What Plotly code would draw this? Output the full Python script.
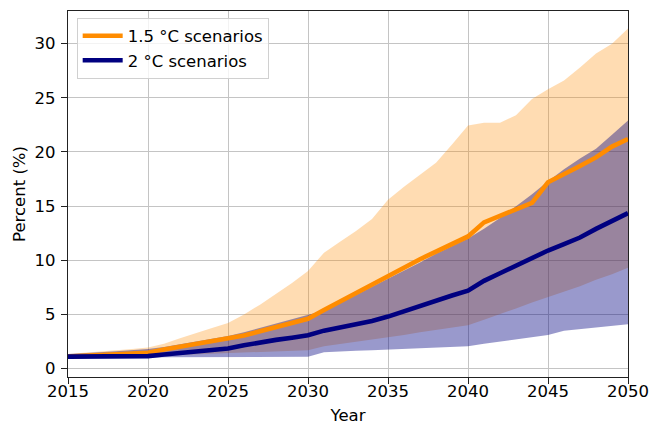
import plotly.graph_objects as go

years = [2015, 2016, 2017, 2018, 2019, 2020, 2021, 2022, 2023, 2024,
         2025, 2026, 2027, 2028, 2029, 2030, 2031, 2032, 2033, 2034,
         2035, 2036, 2037, 2038, 2039, 2040, 2041, 2042, 2043, 2044,
         2045, 2046, 2047, 2048, 2049, 2050]

# 1.5 °C scenarios
orange_med = [1.1, 1.15, 1.2, 1.25, 1.3, 1.45,
              1.75, 2.0, 2.2, 2.45, 2.7, 3.05, 3.45, 3.85, 4.2, 4.6,
              5.4, 6.2, 7.0, 7.8, 8.5, 9.3, 10.1, 10.8, 11.5, 12.2,
              13.5, 14.1, 14.7, 15.3, 17.2, 17.9, 18.7, 19.5, 20.5, 21.2]
orange_hi = [1.35, 1.45, 1.55, 1.65, 1.8, 1.95,
             2.3, 2.8, 3.3, 3.75, 4.2, 5.0, 5.9, 6.9, 7.9, 9.0,
             10.7, 11.7, 12.7, 13.8, 15.6, 16.8, 17.9, 19.0, 20.7, 22.45,
             22.7, 22.7, 23.4, 24.9, 25.8, 26.6, 27.8, 29.1, 30.0, 31.4]
orange_lo = [1.1, 1.1, 1.1, 1.1, 1.12, 1.15,
             1.2, 1.25, 1.3, 1.35, 1.4, 1.45, 1.5, 1.55, 1.6, 1.7,
             2.05, 2.25, 2.45, 2.7, 2.9, 3.1, 3.35, 3.55, 3.75, 4.0,
             4.5, 5.0, 5.55, 6.1, 6.6, 7.1, 7.6, 8.2, 8.7, 9.3]

# 2 °C scenarios
blue_med = [1.1, 1.1, 1.1, 1.1, 1.12, 1.15,
            1.3, 1.45, 1.6, 1.75, 1.85, 2.15, 2.45, 2.65, 2.85, 3.07,
            3.5, 3.8, 4.05, 4.4, 4.8, 5.3, 5.85, 6.3, 6.75, 7.2,
            8.1, 8.8, 9.5, 10.3, 10.9, 11.5, 12.1, 12.9, 13.6, 14.35]
blue_hi = [1.35, 1.4, 1.5, 1.6, 1.7, 1.8,
           2.0, 2.25, 2.5, 2.75, 3.0, 3.35, 3.75, 4.15, 4.5, 4.9,
           5.35, 6.05, 6.8, 7.55, 8.3, 9.0, 9.8, 10.6, 11.3, 12.0,
           12.9, 13.9, 15.0, 16.1, 17.3, 18.4, 19.4, 20.3, 21.6, 22.9]
blue_lo = [1.1, 1.08, 1.05, 1.03, 1.0, 1.0,
           1.05, 1.05, 1.05, 1.05, 1.05, 1.05, 1.05, 1.05, 1.05, 1.08,
           1.5, 1.6, 1.65, 1.7, 1.75, 1.8, 1.9, 1.95, 2.0, 2.05,
           2.3, 2.5, 2.7, 2.9, 3.1, 3.5, 3.65, 3.8, 3.95, 4.1]

x_ticks = [2015, 2020, 2025, 2030, 2035, 2040, 2045, 2050]
y_ticks = [0, 5, 10, 15, 20, 25, 30]
legend_labels = ["1.5 °C scenarios", "2 °C scenarios"]

FONT = "DejaVu Sans"
FS = 16.5

fig = go.Figure()
# orange band
fig.add_trace(go.Scatter(x=years, y=orange_lo, mode="lines", line=dict(width=0),
                         showlegend=False, hoverinfo="skip"))
fig.add_trace(go.Scatter(x=years, y=orange_hi, mode="lines", line=dict(width=0),
                         fill="tonexty", fillcolor="rgba(255,140,0,0.3)",
                         showlegend=False, hoverinfo="skip"))
# blue band
fig.add_trace(go.Scatter(x=years, y=blue_lo, mode="lines", line=dict(width=0),
                         showlegend=False, hoverinfo="skip"))
fig.add_trace(go.Scatter(x=years, y=blue_hi, mode="lines", line=dict(width=0),
                         fill="tonexty", fillcolor="rgba(0,0,128,0.4)",
                         showlegend=False, hoverinfo="skip"))
# median lines
fig.add_trace(go.Scatter(x=years, y=orange_med, mode="lines", name=legend_labels[0],
                         line=dict(color="#FF8C00", width=4.6)))
fig.add_trace(go.Scatter(x=years, y=blue_med, mode="lines", name=legend_labels[1],
                         line=dict(color="#000080", width=4.6)))

axis_common = dict(
    ticks="outside", ticklen=6, tickwidth=1.3, tickcolor="#222",
    showline=True, linecolor="#222", linewidth=1.3, mirror=True,
    showgrid=True, gridcolor="#c4c4c4", gridwidth=1.2, zeroline=False,
    tickfont=dict(family=FONT, size=FS, color="#000"),
)

fig.update_xaxes(range=[2015, 2050], tickvals=x_ticks, ticklabelstandoff=-7,
                 title=dict(text="Year", font=dict(family=FONT, size=FS, color="#000"), standoff=10),
                 **axis_common)
fig.update_yaxes(range=[-0.78, 33.02], tickvals=y_ticks, ticklabelstandoff=2,
                 title=dict(text="Percent (%)", font=dict(family=FONT, size=FS, color="#000"), standoff=4),
                 **axis_common)

fig.update_layout(
    width=650, height=425,
    margin=dict(l=68, r=22, t=11, b=48, autoexpand=False),
    paper_bgcolor="white", plot_bgcolor="white",
    font=dict(family=FONT, size=FS, color="#000"),
    legend=dict(x=0.0155, y=0.982, xanchor="left", yanchor="top",
                bgcolor="rgba(255,255,255,0.8)", bordercolor="#d0d0d0", borderwidth=1,
                font=dict(family=FONT, size=FS, color="#000"), itemwidth=40,
                traceorder="normal"),
    showlegend=True,
)

# remove the browser's default body margin so the figure sits at the window's top-left
fig.write_html("out.html",
               config={"displayModeBar": False, "displaylogo": False},
               post_script="document.body.style.margin='0px';document.body.style.overflow='hidden';")
